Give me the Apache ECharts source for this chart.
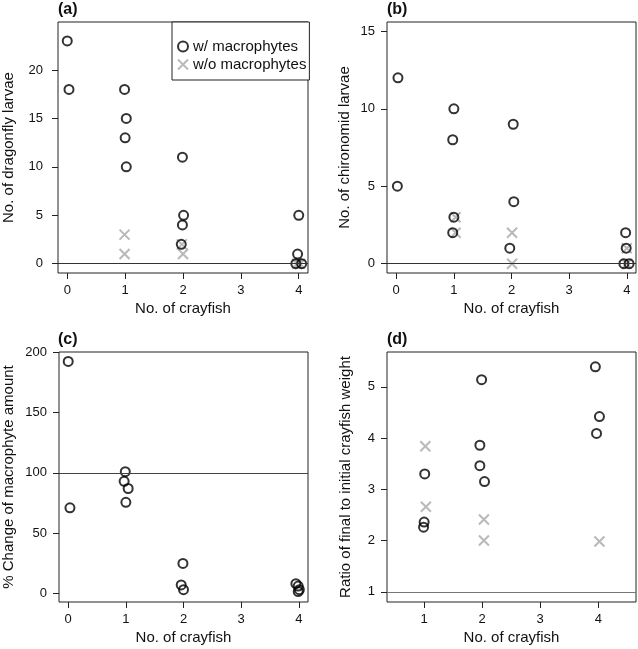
<!DOCTYPE html>
<html>
<head>
<meta charset="utf-8">
<script src="https://cdn.jsdelivr.net/npm/echarts@6/dist/echarts.min.js"></script>
<style>html,body{margin:0;padding:0;background:#fff;}#c{width:638px;height:649px;}</style>
</head>
<body>
<div id="c"></div>
<script>
// ---- data (x values carry the small horizontal jitter seen in the figure) ----
const seriesNames = ['w/ macrophytes', 'w/o macrophytes'];
const xTicksABC = [0, 1, 2, 3, 4];
const xTicksD = [1, 2, 3, 4];
const yTicksA = [0, 5, 10, 15, 20];
const yTicksB = [0, 5, 10, 15];
const yTicksC = [0, 50, 100, 150, 200];
const yTicksD = [1, 2, 3, 4, 5];

// (a) dragonfly larvae
const aWithX = [0.0, 0.03, 0.99, 1.02, 1.0, 1.02, 1.99, 2.01, 1.99, 1.97, 4.0, 3.98, 3.95, 4.05];
const aWithY = [23, 18, 18, 15, 13, 10, 11, 5, 4, 2, 5, 1, 0, 0];
const aWoX = [0.99, 0.99, 1.98, 2.0, 3.97, 4.02];
const aWoY = [3, 1, 2, 1, 0, 0];
// (b) chironomid larvae
const bWithX = [0.03, 0.02, 1.0, 0.98, 1.0, 0.98, 2.03, 2.04, 1.97, 3.98, 3.99, 3.95, 4.04];
const bWithY = [12, 5, 10, 8, 3, 2, 9, 4, 1, 2, 1, 0, 0];
const bWoX = [1.03, 1.03, 2.01, 2.01, 4.0, 4.0];
const bWoY = [3, 2, 2, 0, 1, 0];
// (c) % change of macrophyte amount
const cWithX = [0.0, 0.03, 0.99, 0.97, 1.04, 1.0, 1.99, 1.96, 2.0, 3.95, 3.99, 4.01, 3.99];
const cWithY = [192.5, 71, 101, 93, 87, 75.5, 24.8, 7, 3, 8, 6, 3, 1.5];
// (d) ratio of final to initial crayfish weight
const dWithX = [1.01, 1.0, 0.99, 1.99, 1.96, 1.96, 2.04, 3.95, 4.02, 3.97];
const dWithY = [3.3, 2.36, 2.26, 5.14, 3.86, 3.46, 3.15, 5.39, 4.42, 4.09];
const dWoX = [1.02, 1.03, 2.03, 2.03, 4.02];
const dWoY = [3.84, 2.66, 2.41, 2.0, 1.98];

const refLines = [0, 0, 100, 1];
const yNames = ['No. of dragonfly larvae', 'No. of chironomid larvae', '% Change of macrophyte amount', 'Ratio of final to initial crayfish weight'];
const panelLabels = ['(a)', '(b)', '(c)', '(d)'];

// ---- chart ----
const FONT = 'Liberation Sans, Arial, Helvetica, sans-serif';
const CROSS = 'path://M0,0L10,10M10,0L0,10';
const zip = (xs, ys) => xs.map((x, i) => [x, ys[i]]);

const grids = [
  {left: 58, top: 22, width: 250, height: 251},
  {left: 387, top: 22, width: 249, height: 251},
  {left: 58, top: 352, width: 250, height: 250},
  {left: 387, top: 352, width: 249, height: 250}
].map(g => Object.assign(g, {show: true, borderColor: '#222', borderWidth: 1, backgroundColor: 'transparent', containLabel: false}));

const xRanges = [[-0.16, 4.16], [-0.16, 4.16], [-0.16, 4.16], [0.36, 4.65]];
const yRanges = [[-0.96, 24.96], [-0.6, 15.6], [-7.2, 200.3], [0.8, 5.68]];
const xTickSets = [xTicksABC, xTicksABC, xTicksABC, xTicksD];
const yTickSets = [yTicksA, yTicksB, yTicksC, yTicksD];
const yNameGaps = [42, 35, 43, 34];
const yLabelMargins = [15, 12, 12, 12];

const xAxes = xRanges.map((r, i) => ({
  type: 'value', gridIndex: i, min: r[0], max: r[1], position: 'bottom',
  name: 'No. of crayfish', nameLocation: 'middle', nameGap: 28,
  nameTextStyle: {fontFamily: FONT, fontSize: 15, color: '#111'},
  axisLine: {show: false, onZero: false}, splitLine: {show: false},
  axisTick: {show: true, inside: false, length: 6, lineStyle: {color: '#222'}, customValues: xTickSets[i]},
  axisLabel: {fontFamily: FONT, fontSize: 13, color: '#111', margin: 11, customValues: xTickSets[i]}
}));
const yAxes = yRanges.map((r, i) => ({
  type: 'value', gridIndex: i, min: r[0], max: r[1], position: 'left',
  name: yNames[i], nameLocation: 'middle', nameGap: yNameGaps[i], nameRotate: 90,
  nameTextStyle: {fontFamily: FONT, fontSize: 15, color: '#111'},
  axisLine: {show: false, onZero: false}, splitLine: {show: false},
  axisTick: {show: true, inside: false, length: 6, lineStyle: {color: '#222'}, customValues: yTickSets[i]},
  axisLabel: {fontFamily: FONT, fontSize: 13, color: '#111', margin: yLabelMargins[i], customValues: yTickSets[i]}
}));

const withStyle = {color: 'transparent', borderColor: '#000', borderWidth: 2};
const woStyle = {color: 'transparent', borderColor: '#a8a8a8', borderWidth: 2};
const refColors = ['#333', '#333', '#444', '#777'];

function woSeries(i, data) {
  return {type: 'scatter', name: seriesNames[1], xAxisIndex: i, yAxisIndex: i, data: data,
    symbol: CROSS, symbolSize: 10, itemStyle: woStyle, z: 2, silent: true};
}
function withSeries(i, data) {
  return {type: 'scatter', name: seriesNames[0], xAxisIndex: i, yAxisIndex: i, data: data,
    symbol: 'circle', symbolSize: 9, itemStyle: withStyle, z: 3, silent: true,
    markLine: {silent: true, symbol: 'none', label: {show: false},
      lineStyle: {color: refColors[i], width: 1, type: 'solid'},
      data: [{yAxis: refLines[i]}], animation: false}};
}

const series = [
  woSeries(0, zip(aWoX, aWoY)), withSeries(0, zip(aWithX, aWithY)),
  woSeries(1, zip(bWoX, bWoY)), withSeries(1, zip(bWithX, bWithY)),
  withSeries(2, zip(cWithX, cWithY)),
  woSeries(3, zip(dWoX, dWoY)), withSeries(3, zip(dWithX, dWithY))
];

const titles = panelLabels.map((t, i) => ({
  text: t, left: grids[i].left, top: grids[i].top - 20, padding: 0,
  textStyle: {fontFamily: FONT, fontSize: 16, fontWeight: 'bold', color: '#111'}
}));

const chart = echarts.init(document.getElementById('c'), null, {renderer: 'canvas'});
chart.setOption({
  animation: false,
  backgroundColor: '#fff',
  title: titles,
  grid: grids,
  xAxis: xAxes,
  yAxis: yAxes,
  legend: {
    left: 172, top: 22, orient: 'vertical',
    padding: [17, 3, 8, 5], itemGap: 3, itemWidth: 10, itemHeight: 10,
    borderColor: '#222', borderWidth: 1, backgroundColor: '#fff',
    textStyle: {fontFamily: FONT, fontSize: 15, color: '#111'},
    data: [
      {name: seriesNames[0], icon: 'circle', itemStyle: {color: 'transparent', borderColor: '#000', borderWidth: 2}},
      {name: seriesNames[1], icon: CROSS, itemStyle: {color: 'transparent', borderColor: '#a8a8a8', borderWidth: 2}}
    ]
  },
  series: series
});
</script>
</body>
</html>
